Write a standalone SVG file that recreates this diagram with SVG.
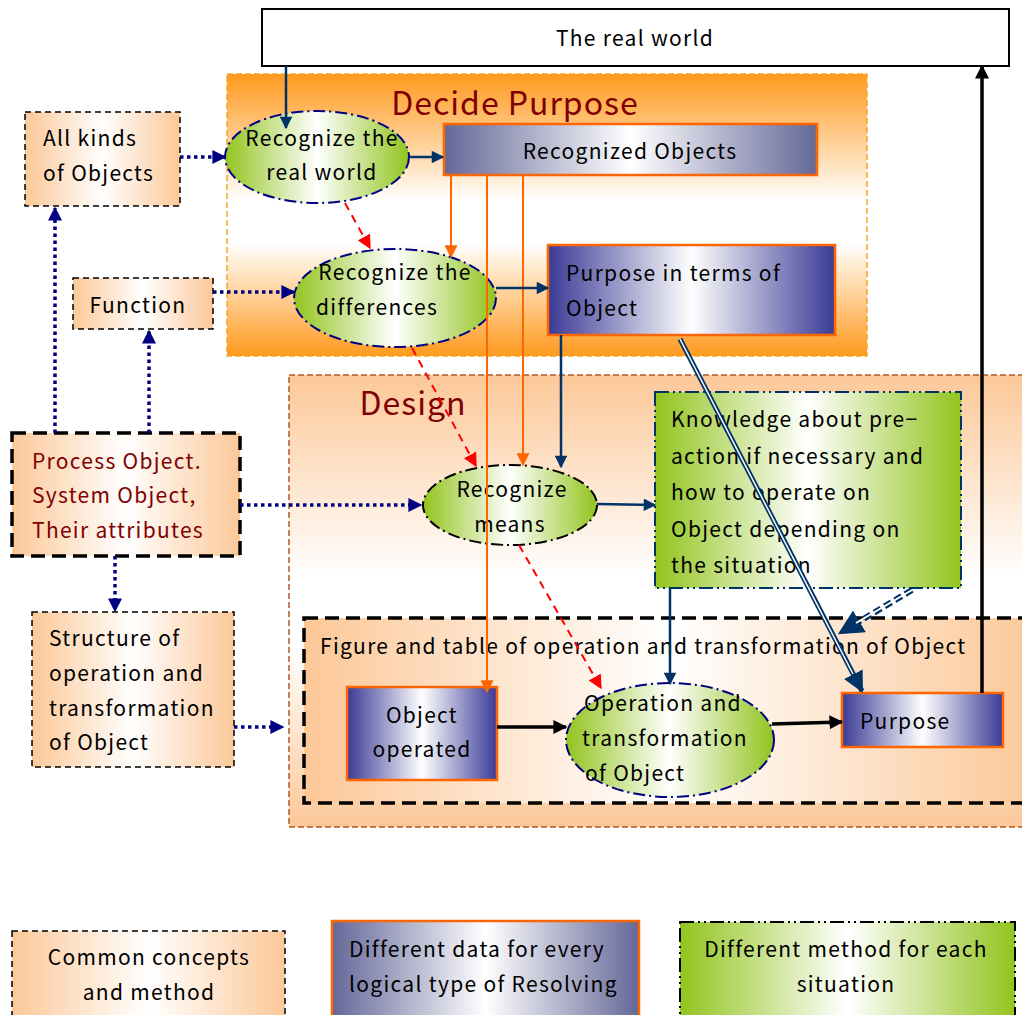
<svg xmlns="http://www.w3.org/2000/svg" width="1022" height="1015" viewBox="0 0 1022 1015">
<defs>
<linearGradient id="gPeach" x1="0" y1="0" x2="1" y2="0"><stop offset="0" stop-color="#fcc898"/><stop offset="0.5" stop-color="#ffffff"/><stop offset="1" stop-color="#fcc898"/></linearGradient>
<linearGradient id="gSlate" x1="0" y1="0" x2="1" y2="0"><stop offset="0" stop-color="#646898"/><stop offset="0.5" stop-color="#ffffff"/><stop offset="1" stop-color="#646898"/></linearGradient>
<linearGradient id="gNavy" x1="0" y1="0" x2="1" y2="0"><stop offset="0" stop-color="#3a3a96"/><stop offset="0.5" stop-color="#ffffff"/><stop offset="1" stop-color="#3a3a96"/></linearGradient>
<linearGradient id="gGreen" x1="0" y1="0" x2="1" y2="0"><stop offset="0" stop-color="#92c41e"/><stop offset="0.5" stop-color="#ffffff"/><stop offset="1" stop-color="#92c41e"/></linearGradient>
<linearGradient id="gDecide" x1="0" y1="0" x2="0" y2="1"><stop offset="0" stop-color="#ff9a1e"/><stop offset="0.45" stop-color="#ffffff"/><stop offset="0.6" stop-color="#ffffff"/><stop offset="1" stop-color="#ff9a1e"/></linearGradient>
<linearGradient id="gDesign" x1="0" y1="0" x2="0" y2="1"><stop offset="0" stop-color="#fcc898"/><stop offset="0.45" stop-color="#ffffff"/><stop offset="0.6" stop-color="#ffffff"/><stop offset="1" stop-color="#fcc898"/></linearGradient>
<marker id="aNavy" viewBox="0 0 10 10" refX="9" refY="5" markerWidth="5.5" markerHeight="5" orient="auto" markerUnits="strokeWidth"><path d="M0,0 L10,5 L0,10 z" fill="#003366"/></marker>
<marker id="aDot" viewBox="0 0 10 10" refX="9" refY="5" markerWidth="4" markerHeight="4" orient="auto" markerUnits="strokeWidth"><path d="M0,0 L10,5 L0,10 z" fill="#000080"/></marker>
<marker id="aRed" viewBox="0 0 10 10" refX="9" refY="5" markerWidth="7" markerHeight="7" orient="auto" markerUnits="strokeWidth"><path d="M0,0 L10,5 L0,10 z" fill="#ff0000"/></marker>
<marker id="aOrange" viewBox="0 0 10 10" refX="9" refY="5" markerWidth="6.5" markerHeight="6.5" orient="auto" markerUnits="strokeWidth"><path d="M0,0 L10,5 L0,10 z" fill="#ff6600"/></marker>
<marker id="aBlack" viewBox="0 0 10 10" refX="9" refY="5" markerWidth="4" markerHeight="4" orient="auto" markerUnits="strokeWidth"><path d="M0,0 L10,5 L0,10 z" fill="#000"/></marker>
<marker id="aDouble" viewBox="0 0 10 10" refX="9" refY="5" markerWidth="4.2" markerHeight="4.2" orient="auto" markerUnits="strokeWidth"><path d="M0,0 L10,5 L0,10 z" fill="#003366"/></marker>
</defs>
<style>
text{font-family:"Noto Sans CJK JP","Noto Sans",sans-serif;font-size:21px;letter-spacing:1.3px;fill:#000}
.title{font-size:32px;letter-spacing:1px;fill:#800000}
.red{fill:#800000}
.peach{fill:url(#gPeach);stroke:#000;stroke-width:1.5;stroke-dasharray:6 4}
.slate{fill:url(#gSlate);stroke:#ff6600;stroke-width:2.5}
.navy{fill:url(#gNavy);stroke:#ff6600;stroke-width:2.5}
.ell{fill:url(#gGreen);stroke:#000080;stroke-width:2;stroke-dasharray:12 4 2 4}
.cn{stroke:#003366;stroke-width:2.5;fill:none;marker-end:url(#aNavy)}
.dot{stroke:#000080;stroke-width:3.5;stroke-dasharray:3.5 3.5;fill:none;marker-end:url(#aDot)}
.rd{stroke:#ff0000;stroke-width:2;stroke-dasharray:8 6;fill:none;marker-end:url(#aRed)}
.or{stroke:#ff6600;stroke-width:2;fill:none;marker-end:url(#aOrange)}
.bk{stroke:#000;stroke-width:3.5;fill:none;marker-end:url(#aBlack)}
</style>

<g id="decide-purpose">
<rect x="227" y="74" width="640" height="282" fill="url(#gDecide)" stroke="#f5a623" stroke-width="1.5" stroke-dasharray="6 3"/>
<text class="title" x="515" y="115" text-anchor="middle">Decide Purpose</text>
</g>
<g id="design">
<rect x="289" y="375" width="740" height="452" fill="url(#gDesign)" stroke="#b05a2a" stroke-width="1.5" stroke-dasharray="6 3"/>
<text class="title" x="413" y="415" text-anchor="middle">Design</text>
</g>
<g id="figure-table">
<rect x="304" y="618" width="730" height="185" fill="url(#gPeach)" stroke="#000" stroke-width="3.5" stroke-dasharray="14 7"/>
<text x="320" y="654">Figure and table of operation and transformation of Object</text>
</g>

<g id="real-world">
<rect x="262" y="9" width="747" height="57" fill="#fff" stroke="#000" stroke-width="2"/>
<text x="635" y="46" text-anchor="middle">The real world</text>
</g>
<g id="all-kinds">
<rect class="peach" x="25" y="112" width="155" height="94"/>
<text x="43" y="146">All kinds</text><text x="43" y="181">of Objects</text>
</g>
<g id="function">
<rect class="peach" x="73" y="278" width="140" height="51"/>
<text x="138" y="313" text-anchor="middle">Function</text>
</g>
<g id="process-object">
<rect x="12" y="433" width="228" height="123" fill="url(#gPeach)" stroke="#000" stroke-width="3.5" stroke-dasharray="14 7"/>
<text class="red" x="32" y="469">Process Object.</text><text class="red" x="32" y="503">System Object,</text><text class="red" x="32" y="538">Their attributes</text>
</g>
<g id="structure">
<rect class="peach" x="32" y="612" width="202" height="155"/>
<text x="49" y="646">Structure of</text><text x="49" y="681">operation and</text><text x="49" y="716">transformation</text><text x="49" y="750">of Object</text>
</g>
<g id="recognize-real-world">
<ellipse class="ell" cx="317" cy="157" rx="92" ry="46"/>
<text x="322" y="146" text-anchor="middle">Recognize the</text><text x="322" y="180" text-anchor="middle">real world</text>
</g>
<g id="recognize-differences">
<ellipse class="ell" cx="395" cy="298" rx="101" ry="49"/>
<text x="395" y="280" text-anchor="middle">Recognize the</text><text x="316" y="315">differences</text>
</g>
<g id="recognized-objects">
<rect class="slate" x="444" y="124" width="373" height="51"/>
<text x="630" y="159" text-anchor="middle">Recognized Objects</text>
</g>
<g id="purpose-terms">
<rect class="navy" x="548" y="245" width="287" height="90"/>
<text x="566" y="281">Purpose in terms of</text><text x="566" y="316">Object</text>
</g>
<g id="recognize-means">
<ellipse cx="510" cy="505" rx="87" ry="40" fill="url(#gGreen)" stroke="#000" stroke-width="2" stroke-dasharray="12 4 2 4"/>
<text x="512" y="497" text-anchor="middle">Recognize</text><text x="510" y="532" text-anchor="middle">means</text>
</g>
<g id="knowledge">
<rect x="655" y="392" width="306" height="196" fill="url(#gGreen)" stroke="#003366" stroke-width="2" stroke-dasharray="14 4 2 4 2 4"/>
<text x="671" y="427">Knowledge about pre−</text><text x="671" y="464">action if necessary and</text><text x="671" y="500">how to operate on</text><text x="671" y="537">Object depending on</text><text x="671" y="573">the situation</text>
</g>
<g id="object-operated">
<rect class="navy" x="347" y="687" width="150" height="93"/>
<text x="422" y="723" text-anchor="middle">Object</text><text x="422" y="757" text-anchor="middle">operated</text>
</g>
<g id="operation-transformation">
<ellipse class="ell" cx="670" cy="740" rx="104" ry="57"/>
<text x="663" y="711" text-anchor="middle">Operation and</text><text x="665" y="746" text-anchor="middle">transformation</text><text x="585" y="781">of Object</text>
</g>
<g id="purpose">
<rect class="navy" x="842" y="693" width="161" height="54"/>
<text x="860" y="729">Purpose</text>
</g>

<g id="connectors">
<line class="cn" x1="286" y1="66" x2="286" y2="128"/>
<line class="cn" x1="410" y1="157" x2="443" y2="157"/>
<line class="dot" x1="180" y1="157" x2="225" y2="157"/>
<line class="rd" x1="345" y1="203" x2="370" y2="248"/>
<line class="or" x1="451" y1="175" x2="451" y2="257"/>
<line class="or" x1="487" y1="175" x2="487" y2="692"/>
<line class="or" x1="523" y1="175" x2="523" y2="465"/>
<line class="dot" x1="213" y1="292" x2="294" y2="292"/>
<line class="cn" x1="496" y1="288" x2="548" y2="288"/>
<line class="rd" x1="412" y1="348" x2="476" y2="466"/>
<line class="cn" x1="561" y1="335" x2="561" y2="467"/>
<line class="dot" x1="240" y1="505" x2="421" y2="505"/>
<line class="dot" x1="55" y1="433" x2="55" y2="208"/>
<line class="dot" x1="149" y1="433" x2="149" y2="331"/>
<line class="dot" x1="115" y1="556" x2="115" y2="611"/>
<line class="dot" x1="234" y1="727" x2="283" y2="727"/>
<line class="cn" x1="597" y1="504" x2="655" y2="505"/>
<line class="rd" x1="519" y1="545" x2="601" y2="688"/>
<line class="cn" x1="670" y1="588" x2="670" y2="684"/>
<line class="bk" x1="497" y1="727" x2="566" y2="727"/>
<line class="bk" x1="772" y1="724" x2="842" y2="722"/>
<line class="bk" x1="982" y1="693" x2="982" y2="66"/>
<line x1="680" y1="339" x2="862" y2="691" stroke="#003366" stroke-width="5" marker-end="url(#aDouble)"/>
<line x1="680" y1="339" x2="853" y2="674" stroke="#fff" stroke-width="1.5"/>
<line x1="912" y1="590" x2="840" y2="633" stroke="#003366" stroke-width="6" stroke-dasharray="8 4" marker-end="url(#aDouble)"/>
<line x1="912" y1="590" x2="856" y2="623" stroke="#fff" stroke-width="2"/>
</g>

<g id="legend-common">
<rect class="peach" x="12" y="931" width="273" height="100"/>
<text x="149" y="965" text-anchor="middle">Common concepts</text><text x="149" y="1000" text-anchor="middle">and method</text>
</g>
<g id="legend-data">
<rect class="slate" x="332" y="921" width="307" height="110"/>
<text x="349" y="957">Different data for every</text><text x="349" y="992">logical type of Resolving</text>
</g>
<g id="legend-method">
<rect x="680" y="922" width="335" height="110" fill="url(#gGreen)" stroke="#000" stroke-width="2" stroke-dasharray="14 4 2 4 2 4"/>
<text x="846" y="957" text-anchor="middle">Different method for each</text><text x="846" y="992" text-anchor="middle">situation</text>
</g>
</svg>
